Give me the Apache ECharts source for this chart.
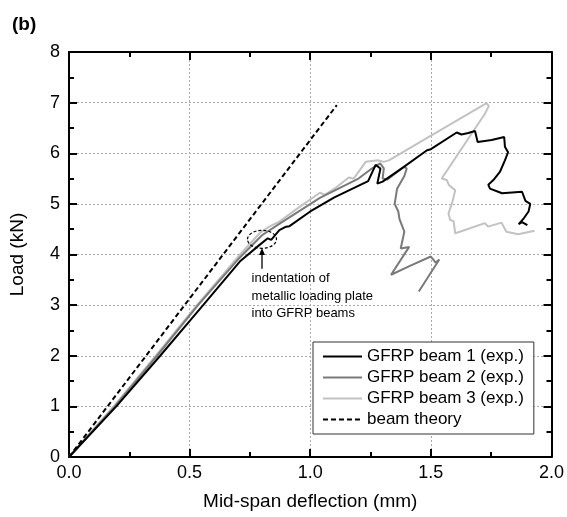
<!DOCTYPE html>
<html>
<head>
<meta charset="utf-8">
<script src="https://cdn.jsdelivr.net/npm/echarts@6/dist/echarts.min.js"></script>
<style>
html, body { margin: 0; padding: 0; background: #fff; }
#chart { width: 567px; height: 517px; }
</style>
</head>
<body>
<div id="chart"></div>
<script>
// values (deflection in mm, load in kN)
var beam1X = [0, 0.196, 0.378, 0.556, 0.708, 0.79, 0.824, 0.838, 0.872, 0.90, 0.914, 1.0, 1.1, 1.24, 1.271, 1.291, 1.278, 1.30, 1.388, 1.484, 1.50, 1.607, 1.627, 1.655, 1.683, 1.694, 1.752, 1.804, 1.807, 1.82, 1.807, 1.786, 1.759, 1.738, 1.745, 1.795, 1.878, 1.892, 1.912, 1.905, 1.886, 1.864, 1.878, 1.90];
var beam1Y = [0, 1.0, 2.0, 3.0, 3.86, 4.19, 4.32, 4.29, 4.48, 4.55, 4.56, 4.85, 5.13, 5.45, 5.77, 5.70, 5.40, 5.44, 5.73, 6.06, 6.08, 6.41, 6.37, 6.40, 6.44, 6.22, 6.26, 6.32, 6.13, 6.02, 5.86, 5.63, 5.47, 5.38, 5.30, 5.21, 5.24, 5.06, 5.0, 4.85, 4.72, 4.60, 4.64, 4.58];

var beam2X = [0, 0.19, 0.365, 0.535, 0.70, 0.80, 0.87, 1.04, 1.20, 1.25, 1.29, 1.305, 1.30, 1.32, 1.388, 1.40, 1.39, 1.36, 1.35, 1.365, 1.37, 1.39, 1.375, 1.41, 1.335, 1.42, 1.50, 1.52, 1.535, 1.45];
var beam2Y = [0, 1.0, 2.0, 3.0, 3.9, 4.38, 4.6, 5.12, 5.5, 5.68, 5.80, 5.70, 5.50, 5.48, 5.73, 5.70, 5.55, 5.30, 5.00, 4.85, 4.70, 4.45, 4.12, 4.15, 3.60, 3.79, 3.96, 3.84, 3.90, 3.27];

var beam3X = [0, 0.185, 0.36, 0.53, 0.70, 0.79, 0.83, 0.872, 0.95, 1.04, 1.06, 1.10, 1.16, 1.18, 1.23, 1.28, 1.305, 1.326, 1.49, 1.731, 1.74, 1.724, 1.545, 1.566, 1.575, 1.601, 1.59, 1.573, 1.58, 1.594, 1.601, 1.62, 1.724, 1.737, 1.793, 1.813, 1.862, 1.93];
var beam3Y = [0, 1.0, 2.0, 3.0, 3.95, 4.42, 4.55, 4.65, 4.92, 5.22, 5.18, 5.30, 5.52, 5.50, 5.83, 5.86, 5.83, 5.86, 6.32, 6.99, 6.93, 6.78, 5.50, 5.47, 5.37, 5.27, 5.05, 4.81, 4.68, 4.66, 4.42, 4.45, 4.62, 4.55, 4.63, 4.45, 4.40, 4.47];

var theoryX = [0, 1.11];
var theoryY = [0, 6.95];

var seriesNames = ['GFRP beam 1 (exp.)', 'GFRP beam 2 (exp.)', 'GFRP beam 3 (exp.)', 'beam theory'];
var noteLines = ['indentation of', 'metallic loading plate', 'into GFRP beams'];
var notePoint = [0.80, 4.30];     // centre of the dashed ellipse
var arrowTail = [0.80, 3.72];
var arrowTip = [0.80, 4.13];
var noteAt = [0.757, 3.70];

var font = 'Liberation Sans, Arial, sans-serif';

function pairs(xs, ys) {
    return xs.map(function (x, i) { return [x, ys[i]]; });
}

function boxAxis(opts) {
    var ax = {
        type: 'value',
        min: opts.min,
        max: opts.max,
        interval: opts.interval,
        position: opts.position,
        axisLine: { show: true, onZero: false, lineStyle: { color: '#000', width: 2 } },
        axisTick: { show: true, inside: true, length: 8, lineStyle: { color: '#000', width: 2 } },
        minorTick: { show: true, splitNumber: 2, length: 5, lineStyle: { color: '#000', width: 2 } },
        splitLine: { show: false },
        axisLabel: { show: false }
    };
    return ax;
}

var xBottom = boxAxis({ min: 0, max: 2, interval: 0.5, position: 'bottom' });
xBottom.axisLabel = {
    show: true, margin: 7, color: '#000', fontSize: 18, fontFamily: font,
    formatter: function (v) { return v.toFixed(1); }
};
xBottom.splitLine = { show: true, lineStyle: { color: '#aaa', width: 1, type: [2, 2] } };
xBottom.name = 'Mid-span deflection (mm)';
xBottom.nameLocation = 'middle';
xBottom.nameGap = 35;
xBottom.nameTextStyle = { color: '#000', fontSize: 19, fontFamily: font };

var xTop = boxAxis({ min: 0, max: 2, interval: 0.5, position: 'top' });

var yLeft = boxAxis({ min: 0, max: 8, interval: 1, position: 'left' });
yLeft.axisLabel = { show: true, margin: 9, color: '#000', fontSize: 18, fontFamily: font };
yLeft.splitLine = { show: true, lineStyle: { color: '#aaa', width: 1, type: [2, 2] } };
yLeft.name = 'Load (kN)';
yLeft.nameLocation = 'middle';
yLeft.nameGap = 42;
yLeft.nameTextStyle = { color: '#000', fontSize: 19, fontFamily: font };

var yRight = boxAxis({ min: 0, max: 8, interval: 1, position: 'right' });

function lineSeries(name, data, color, type) {
    return {
        name: name,
        type: 'line',
        data: data,
        symbol: 'none',
        smooth: false,
        animation: false,
        lineStyle: { color: color, width: 2, type: type || 'solid' },
        itemStyle: { color: color }
    };
}

var option = {
    animation: false,
    backgroundColor: '#fff',
    title: {
        text: '(b)', left: 7, top: 10,
        textStyle: { fontSize: 19, fontWeight: 'bold', color: '#000', fontFamily: font }
    },
    grid: { left: 68, right: 15, top: 52, bottom: 60 },
    xAxis: [xBottom, xTop],
    yAxis: [yLeft, yRight],
    legend: {
        orient: 'vertical',
        left: 313,
        top: 342,
        padding: [6, 10, 6, 9],
        itemWidth: 39,
        itemHeight: 14,
        itemGap: 4,
        backgroundColor: '#fff',
        borderColor: '#333',
        borderWidth: 1,
        borderRadius: 0,
        itemStyle: { opacity: 0 },
        data: seriesNames,
        textStyle: { fontSize: 17, lineHeight: 17, color: '#000', fontFamily: font }
    },
    series: [
        lineSeries(seriesNames[2], pairs(beam3X, beam3Y), '#c2c2c2'),
        lineSeries(seriesNames[1], pairs(beam2X, beam2Y), '#7a7a7a'),
        lineSeries(seriesNames[0], pairs(beam1X, beam1Y), '#000'),
        lineSeries(seriesNames[3], pairs(theoryX, theoryY), '#000', [5, 3])
    ]
};

var chart = echarts.init(document.getElementById('chart'));
chart.setOption(option);

// annotation placed through the chart's own scales
var finder = { xAxisIndex: 0, yAxisIndex: 0 };
var c = chart.convertToPixel(finder, notePoint);
var tail = chart.convertToPixel(finder, arrowTail);
var tip = chart.convertToPixel(finder, arrowTip);
var txt = chart.convertToPixel(finder, noteAt);

chart.setOption({
    graphic: [
        {
            type: 'ellipse',
            shape: { cx: c[0], cy: c[1], rx: 14.5, ry: 9 },
            style: { fill: 'none', stroke: '#000', lineWidth: 1.2, lineDash: [3, 2] },
            z: 100
        },
        {
            type: 'line',
            shape: { x1: tail[0], y1: tail[1], x2: tip[0], y2: tip[1] + 5 },
            style: { stroke: '#000', lineWidth: 1.3 },
            z: 100
        },
        {
            type: 'polygon',
            shape: { points: [[tip[0], tip[1]], [tip[0] - 3, tip[1] + 7], [tip[0] + 3, tip[1] + 7]] },
            style: { fill: '#000' },
            z: 100
        },
        {
            type: 'text',
            x: txt[0],
            y: txt[1],
            style: {
                text: noteLines.join('\n'),
                fontSize: 13,
                lineHeight: 17.5,
                fontFamily: font,
                fill: '#000',
                textAlign: 'left',
                textVerticalAlign: 'top'
            },
            z: 100
        }
    ]
});
</script>
</body>
</html>
